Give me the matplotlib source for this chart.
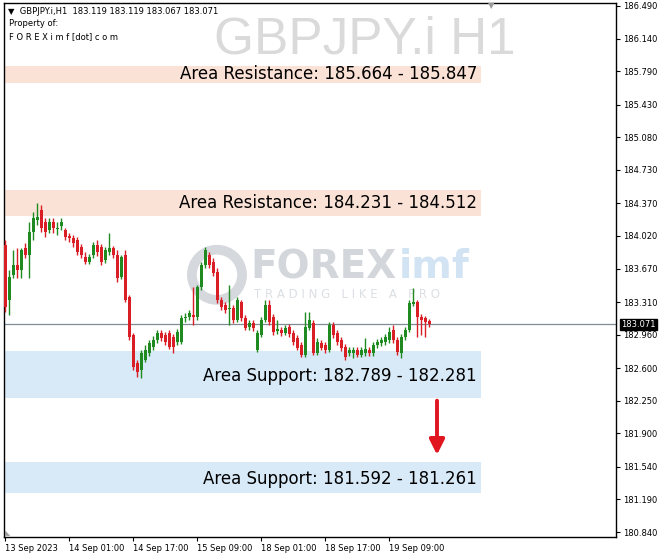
# GBPJPY.i H1 chart with support / resistance areas (MT4 style)

import numpy as np
import matplotlib
matplotlib.use("Agg")
import matplotlib.pyplot as plt
from matplotlib.patches import Ellipse

# hourly candles from 13 Sep 2023 09:00
opens = [183.923, 183.332, 183.601, 183.708, 183.654, 183.890, 183.815, 184.062, 184.191, 184.299,
         184.170, 184.084, 184.170, 184.095, 184.127, 184.084, 184.019, 183.998, 183.976, 183.901,
         183.794, 183.740, 183.815, 183.923, 183.901, 183.762, 183.848, 183.890, 183.815, 183.579,
         183.815, 183.364, 182.956, 182.655, 182.580, 182.688, 182.763, 182.827, 182.902, 182.977,
         182.956, 182.977, 182.934, 182.881, 182.881, 183.139, 183.149, 183.171, 183.149, 183.472,
         183.708, 183.815, 183.740, 183.633, 183.332, 183.278, 183.235, 183.246, 183.117, 183.310,
         183.139, 183.042, 183.085, 182.795, 182.956, 183.117, 183.278, 183.149, 182.999, 183.010,
         182.977, 183.042, 182.977, 182.924, 182.849, 182.741, 183.031, 183.085, 182.763, 182.870,
         182.849, 182.795, 183.063, 182.977, 182.902, 182.827, 182.763, 182.763, 182.795, 182.741,
         182.763, 182.795, 182.763, 182.849, 182.870, 182.881, 182.902, 183.010, 182.902, 182.763,
         182.934, 183.010, 183.289, 183.310, 183.149, 183.139, 183.106]
highs = [183.976, 183.654, 183.869, 183.890, 183.890, 183.944, 184.170, 184.277, 184.374, 184.352,
         184.213, 184.213, 184.213, 184.170, 184.213, 184.105, 184.052, 184.030, 184.009, 183.933,
         183.848, 183.826, 183.955, 183.976, 183.933, 183.901, 184.052, 183.912, 183.869, 183.815,
         183.869, 183.386, 182.977, 182.688, 182.795, 182.849, 182.902, 182.945, 183.010, 183.010,
         182.988, 183.010, 182.967, 183.020, 183.171, 183.192, 183.225, 183.472, 183.493, 183.740,
         183.901, 183.848, 183.783, 183.676, 183.364, 183.310, 183.493, 183.278, 183.364, 183.332,
         183.171, 183.117, 183.117, 183.010, 183.149, 183.332, 183.332, 183.182, 183.117, 183.042,
         183.063, 183.074, 183.010, 182.956, 182.881, 183.203, 183.203, 183.117, 182.924, 182.902,
         182.881, 183.096, 183.096, 183.010, 182.934, 182.859, 182.827, 182.827, 182.827, 182.827,
         182.924, 182.827, 182.881, 182.913, 182.934, 182.967, 183.042, 183.063, 182.934, 182.967,
         183.042, 183.332, 183.461, 183.332, 183.182, 183.160, 183.128]
lows = [183.203, 183.171, 183.568, 183.568, 183.568, 183.783, 183.568, 183.976, 184.137, 184.062,
        184.009, 184.052, 184.052, 184.030, 184.084, 183.976, 183.955, 183.901, 183.815, 183.783,
        183.719, 183.719, 183.783, 183.805, 183.708, 183.729, 183.815, 183.783, 183.525, 183.558,
        183.310, 182.902, 182.580, 182.505, 182.494, 182.666, 182.730, 182.795, 182.870, 182.892,
        182.849, 182.806, 182.763, 182.849, 182.859, 183.096, 183.117, 183.063, 183.117, 183.439,
        183.676, 183.676, 183.590, 183.300, 183.225, 183.192, 183.063, 183.085, 183.096, 183.106,
        183.010, 183.010, 182.999, 182.773, 182.934, 183.096, 183.063, 182.956, 182.967, 182.945,
        182.956, 182.934, 182.849, 182.795, 182.720, 182.720, 183.010, 182.741, 182.741, 182.795,
        182.763, 182.773, 182.924, 182.849, 182.784, 182.688, 182.730, 182.709, 182.720, 182.720,
        182.730, 182.730, 182.730, 182.816, 182.838, 182.849, 182.870, 182.870, 182.741, 182.709,
        182.902, 182.988, 183.267, 182.934, 182.956, 182.934, 183.042]
closes = [183.257, 183.579, 183.708, 183.654, 183.869, 183.815, 184.062, 184.213, 184.223, 184.105,
          184.062, 184.170, 184.105, 184.105, 184.170, 184.009, 183.998, 183.944, 183.848, 183.815,
          183.740, 183.794, 183.923, 183.848, 183.740, 183.869, 183.890, 183.815, 183.568, 183.794,
          183.332, 182.934, 182.612, 182.559, 182.763, 182.795, 182.870, 182.902, 182.977, 182.924,
          182.881, 182.827, 182.827, 182.988, 183.139, 183.149, 183.192, 183.149, 183.472, 183.708,
          183.869, 183.708, 183.622, 183.332, 183.257, 183.225, 183.246, 183.117, 183.332, 183.139,
          183.031, 183.085, 183.031, 182.977, 183.117, 183.278, 183.096, 182.988, 183.020, 182.977,
          183.031, 182.967, 182.881, 182.816, 182.741, 183.042, 183.117, 182.763, 182.881, 182.816,
          182.795, 183.063, 182.956, 182.881, 182.816, 182.720, 182.795, 182.795, 182.741, 182.795,
          182.806, 182.763, 182.849, 182.881, 182.902, 182.934, 182.988, 182.902, 182.773, 182.934,
          183.010, 183.300, 183.310, 183.149, 183.117, 183.096, 183.071]

time_ticks = [0, 16, 32, 48, 64, 80, 96]
time_labels = ["13 Sep 2023", "14 Sep 01:00", "14 Sep 17:00", "15 Sep 09:00",
               "18 Sep 01:00", "18 Sep 17:00", "19 Sep 09:00"]
price_ticks = [186.490, 186.140, 185.790, 185.430, 185.080, 184.730, 184.370, 184.020, 183.670,
               183.310, 182.960, 182.600, 182.250, 181.900, 181.540, 181.190, 180.840]

resistance_zones = [(185.664, 185.847), (184.231, 184.512)]
support_zones = [(182.789, 182.281), (181.592, 181.261)]
last_price = 183.071
arrow_from, arrow_to = 182.281, 181.64

W, H = 664, 560


def fx(px):
    return px / W


def fy(py):
    return 1 - py / H


def main():
    o = np.array(opens)
    h = np.array(highs)
    l = np.array(lows)
    c = np.array(closes)
    idx = np.arange(len(o))

    fig = plt.figure(figsize=(6.64, 5.6), dpi=100)
    ax = fig.add_axes([fx(4), fy(537), fx(612), 534 / H])
    ax.set_xlim(-0.25, 152.75)
    ax.set_ylim(180.787, 186.522)

    # watermark + logo
    fig.text(fx(365), fy(40), "GBPJPY.i H1", fontsize=37, color="#dadada",
             family="Liberation Sans", ha="center", va="center", zorder=0)
    ax.add_patch(Ellipse((0.348, 0.491), 0.082, 0.094, transform=ax.transAxes,
                         facecolor="none", edgecolor="#d5d8dc", linewidth=7, zorder=0))
    ax.text(0.402, 0.505, "FOREX", transform=ax.transAxes, fontsize=28, weight="bold",
            color="#d3d6db", va="center", ha="left", zorder=0)
    ax.text(0.645, 0.505, "imf", transform=ax.transAxes, fontsize=28, weight="bold",
            color="#d2e3f3", va="center", ha="left", zorder=0)
    ax.text(0.408, 0.455, "T R A D I N G   L I K E   A   P R O", transform=ax.transAxes,
            fontsize=8.5, color="#dcdfe3", va="center", ha="left", zorder=0)

    # areas
    for lo, hi in resistance_zones:
        ax.fill_between([-0.25, 119], lo, hi, color="#fbe2d6", lw=0, zorder=1)
        ax.text(118, (lo + hi) / 2, f"Area Resistance: {lo:.3f} - {hi:.3f}",
                ha="right", va="center", fontsize=12, zorder=2)
    for hi, lo in support_zones:
        ax.fill_between([-0.25, 119], lo, hi, color="#d8e9f8", lw=0, zorder=1)
        ax.text(118, (lo + hi) / 2 - 0.02, f"Area Support: {hi:.3f} - {lo:.3f}",
                ha="right", va="center", fontsize=12, zorder=2)

    # candles
    up = c >= o
    colors = np.where(up, "#1f8a1f", "#d91e25")
    ax.vlines(idx, l, h, colors=colors, lw=1, zorder=3)
    body = np.maximum(np.abs(c - o), 0.008)
    ax.bar(idx, body, bottom=np.minimum(o, c), width=0.75, color=colors, lw=0, zorder=4)

    # last price line
    ax.axhline(last_price, color="#7f8c96", lw=0.9, zorder=2)
    ax.annotate(f"{last_price:.3f}", xy=(1.0, last_price), xycoords=("axes fraction", "data"),
                xytext=(4, 0), textcoords="offset points", va="center", ha="left",
                fontsize=6, color="white",
                bbox=dict(boxstyle="square,pad=0.15", fc="black", ec="black"), zorder=6,
                annotation_clip=False)

    # arrow down
    ax.annotate("", xy=(108, arrow_to), xytext=(108, arrow_from),
                arrowprops=dict(arrowstyle="-|>,head_width=0.45,head_length=0.9",
                                color="#e0151f", lw=2.8), zorder=5)

    # small chart-shift markers
    fig.text(fx(491), fy(6), "\u25bc", fontsize=6, color="#9a9a9a", ha="center", va="center")
    fig.text(fx(8), fy(533), "\u25e3", fontsize=5, color="#9a9a9a", ha="center", va="center")

    # axes
    ax.yaxis.tick_right()
    ax.set_yticks(price_ticks)
    ax.set_yticklabels([f"{p:.3f}" for p in price_ticks], fontsize=6)
    ax.set_xticks(time_ticks)
    ax.set_xticklabels(time_labels, fontsize=6, ha="left")
    ax.tick_params(axis="both", direction="out", length=3, width=0.8, pad=2)
    for s in ax.spines.values():
        s.set_linewidth(1)
        s.set_color("black")

    # header text
    fig.text(fx(8), fy(11), "\u25bc  GBPJPY.i,H1  183.119 183.119 183.067 183.071",
             fontsize=6, va="center")
    fig.text(fx(9), fy(24), "Property of:", fontsize=6, va="center")
    fig.text(fx(9), fy(37), "F O R E X i m f [dot] c o m", fontsize=6, va="center")

    fig.savefig("out.png", dpi=100)


if __name__ == "__main__":
    main()
